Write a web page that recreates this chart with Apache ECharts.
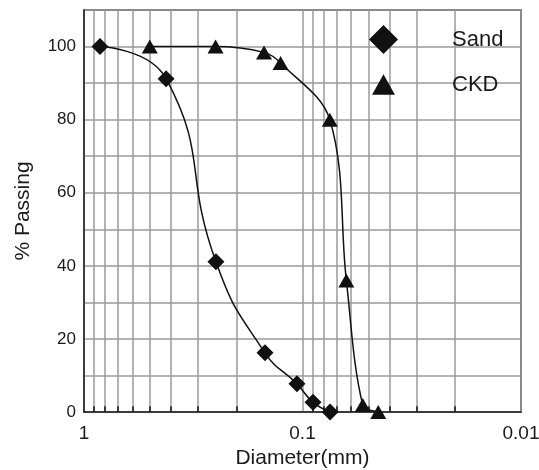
<!DOCTYPE html>
<html>
<head>
<meta charset="utf-8">
<script src="https://cdn.jsdelivr.net/npm/echarts@6/dist/echarts.min.js"></script>
<style>
  html, body { margin: 0; padding: 0; background: #fff; }
  #chart { width: 539px; height: 470px; }
</style>
</head>
<body>
<div id="chart"></div>
<script>
// grain size data
var sandDiam = [0.845, 0.421, 0.249, 0.1485, 0.106, 0.0895, 0.0748];
var sandPass = [100, 91.2, 41.1, 16.2, 7.7, 2.7, 0];
var ckdDiam = [0.5, 0.25, 0.15, 0.126, 0.075, 0.063, 0.053, 0.045];
var ckdPass = [100, 100, 98.4, 95.5, 80, 36, 1.9, 0];
// minor log grid lines
var minorLines = [0.9, 0.8, 0.7, 0.6, 0.5, 0.4, 0.3, 0.2,
                  0.09, 0.08, 0.07, 0.06, 0.05, 0.04, 0.03, 0.02];

function pairs(xs, ys) {
  return xs.map(function (x, i) { return [x, ys[i]]; });
}

var gridMarks = minorLines.map(function (v) {
  return { xAxis: v, lineStyle: { color: '#9a9a9a', width: 1.5, type: 'solid' } };
});
minorLines.forEach(function (v) {
  gridMarks.push([
    { coord: [v, 0], lineStyle: { color: '#111', width: 1.5, type: 'solid' } },
    { coord: [v, 1.6] }
  ]);
});

var chart = echarts.init(document.getElementById('chart'));
chart.setOption({
  animation: false,
  textStyle: { fontFamily: 'Liberation Sans, Arial, sans-serif' },
  grid: {
    left: 84, right: 18, top: 10, bottom: 58,
    outerBoundsMode: 'none',
    containLabel: false,
    show: true, borderColor: '#222', borderWidth: 1.5
  },
  legend: {
    orient: 'vertical',
    left: 364, top: 20,
    itemWidth: 29, itemHeight: 29,
    itemGap: 16,
    data: [
      { name: 'Sand', icon: 'diamond' },
      // smaller triangle inside the same box
      { name: 'CKD', icon: 'path://M0,0 M28,28 M3,24 L14,4 L25,24 Z' }
    ],
    itemStyle: { color: '#111', borderWidth: 0 },
    lineStyle: { width: 0, opacity: 0 },
    textStyle: { fontSize: 22, color: '#1a1a1a', padding: [0, 0, 0, 49] }
  },
  xAxis: {
    type: 'log',
    logBase: 10,
    min: 0.01,
    max: 1,
    inverse: true,
    name: 'Diameter(mm)',
    nameLocation: 'middle',
    nameGap: 35,
    nameTextStyle: { fontSize: 21, color: '#1a1a1a' },
    axisLine: { lineStyle: { color: '#222', width: 1.5 } },
    axisTick: { show: false },
    axisLabel: { fontSize: 19, color: '#1a1a1a', margin: 12 },
    splitLine: { show: true, lineStyle: { color: '#9a9a9a', width: 1.5 } }
  },
  yAxis: {
    type: 'value',
    min: 0,
    max: 110,
    interval: 10,
    name: '% Passing',
    nameLocation: 'middle',
    nameGap: 50,
    nameTextStyle: { fontSize: 21, color: '#1a1a1a' },
    axisLine: { show: true, lineStyle: { color: '#222', width: 1.5 } },
    axisTick: { show: false },
    axisLabel: {
      fontSize: 17, color: '#1a1a1a', margin: 8,
      formatter: function (v) { return (v % 20 === 0 && v <= 100) ? v : ''; }
    },
    splitLine: { show: true, lineStyle: { color: '#9a9a9a', width: 1.5 } }
  },
  series: [
    {
      name: 'grid',
      type: 'line',
      data: [],
      z: 1,
      silent: true,
      markLine: { silent: true, z: 1, symbol: 'none', label: { show: false }, animation: false, data: gridMarks }
    },
    {
      name: 'Sand',
      type: 'line',
      z: 3,
      smooth: 0.5,
      symbol: 'diamond',
      symbolSize: 17,
      itemStyle: { color: '#111' },
      lineStyle: { color: '#111', width: 1.5 },
      data: pairs(sandDiam, sandPass)
    },
    {
      name: 'CKD',
      type: 'line',
      z: 3,
      smooth: 0.35,
      symbol: 'triangle',
      symbolSize: [16, 14],
      itemStyle: { color: '#111' },
      lineStyle: { color: '#111', width: 1.5 },
      data: pairs(ckdDiam, ckdPass)
    }
  ]
});
</script>
</body>
</html>
